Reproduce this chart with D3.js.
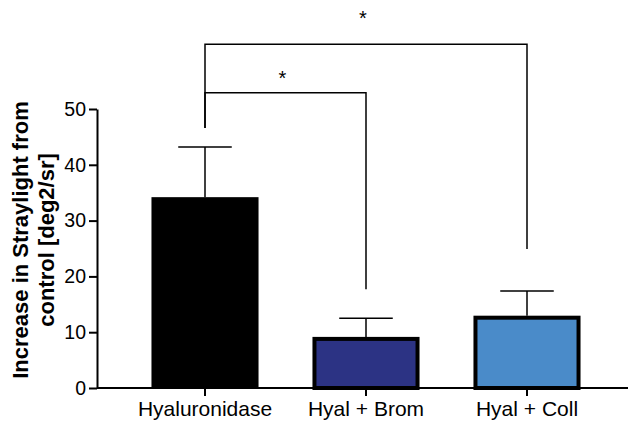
<!DOCTYPE html>
<html><head><meta charset="utf-8">
<script src="https://cdn.jsdelivr.net/npm/d3@7"></script>
<style>body{margin:0;background:#fff}svg{display:block}text{font-family:"Liberation Sans",Arial,sans-serif}</style>
</head><body>
<svg id="c" width="629" height="424"></svg>
<script>
const categories = ["Hyaluronidase", "Hyal + Brom", "Hyal + Coll"];
const means = [34.2, 8.8, 12.6];
const errors = [9.0, 3.7, 4.8];
const colors = ["#000000", "#2c3384", "#4a8bc9"];
const yTicks = [0, 10, 20, 30, 40, 50];
// significance brackets (value units)
const brackets = [
  {from: 0, to: 1, level: 52.9, leftEnd: 46.6, rightEnd: 17.7, labelAt: 54.3, label: "*"},
  {from: 0, to: 2, level: 61.6, leftEnd: 46.6, rightEnd: 24.9, labelAt: 65.1, label: "*"}
];

const svg = d3.select("#c");
const y = d3.scaleLinear().domain([0, 50]).range([388, 109]);
const x = d3.scaleBand().domain(categories).range([124.5, 607.5]).paddingInner(0.335).paddingOuter(0.1675);
const axX = 97;

// bars
categories.forEach((c, i) => {
  const outline = i > 0;
  const sw = outline ? 4 : 0;
  svg.append("rect")
    .attr("x", x(c) + sw / 2)
    .attr("y", y(means[i]))
    .attr("width", x.bandwidth() - sw)
    .attr("height", y(0) - y(means[i]))
    .attr("fill", colors[i])
    .attr("stroke", outline ? "#000" : "none")
    .attr("stroke-width", sw);
  // error bar
  const cx = x(c) + x.bandwidth() / 2;
  const top = y(means[i] + errors[i]);
  svg.append("line").attr("x1", cx).attr("x2", cx).attr("y1", y(means[i]) - sw / 2).attr("y2", top)
    .attr("stroke", "#000").attr("stroke-width", 1.5);
  svg.append("line").attr("x1", cx - x.bandwidth() / 4).attr("x2", cx + x.bandwidth() / 4).attr("y1", top).attr("y2", top)
    .attr("stroke", "#000").attr("stroke-width", 1.5);
});

// y axis
const gy = svg.append("g").attr("transform", `translate(${axX},0)`)
  .call(d3.axisLeft(y).tickValues(yTicks).tickSize(8).tickSizeOuter(0).tickPadding(3));
gy.select(".domain").attr("stroke-width", 2);
gy.selectAll(".tick line").attr("stroke-width", 2);
gy.selectAll(".tick text").attr("font-size", 19.5).attr("fill", "#000").attr("font-family", '"Liberation Sans",Arial,sans-serif');

// x axis
const gx = svg.append("g").attr("transform", `translate(0,${y(0)})`)
  .call(d3.axisBottom(x).tickSize(8).tickSizeOuter(0).tickPadding(5));
gx.select(".domain").remove();
gx.selectAll(".tick line").attr("stroke-width", 2);
gx.selectAll(".tick text").attr("font-size", 21).attr("fill", "#000").attr("font-family", '"Liberation Sans",Arial,sans-serif');
svg.append("line").attr("x1", axX).attr("x2", 628).attr("y1", y(0)).attr("y2", y(0)).attr("stroke", "#000").attr("stroke-width", 2);

// y title
const title = svg.append("text").attr("transform", "translate(0,240) rotate(-90)")
  .attr("text-anchor", "middle").attr("font-weight", "bold").attr("font-size", 22);
title.append("tspan").attr("x", 0).attr("y", 28).text("Increase in Straylight from");
title.append("tspan").attr("x", 0).attr("y", 54).text("control [deg2/sr]");

// brackets
brackets.forEach(b => {
  const x1 = x(categories[b.from]) + x.bandwidth() / 2;
  const x2 = x(categories[b.to]) + x.bandwidth() / 2;
  svg.append("path")
    .attr("d", `M${x1},${y(b.leftEnd)}V${y(b.level)}H${x2}V${y(b.rightEnd)}`)
    .attr("fill", "none").attr("stroke", "#000").attr("stroke-width", 1.5);
  svg.append("text").attr("x", (x1 + x2) / 2 - 3).attr("y", y(b.labelAt))
    .attr("text-anchor", "middle").attr("font-size", 20).text(b.label);
});
</script>
</body></html>
